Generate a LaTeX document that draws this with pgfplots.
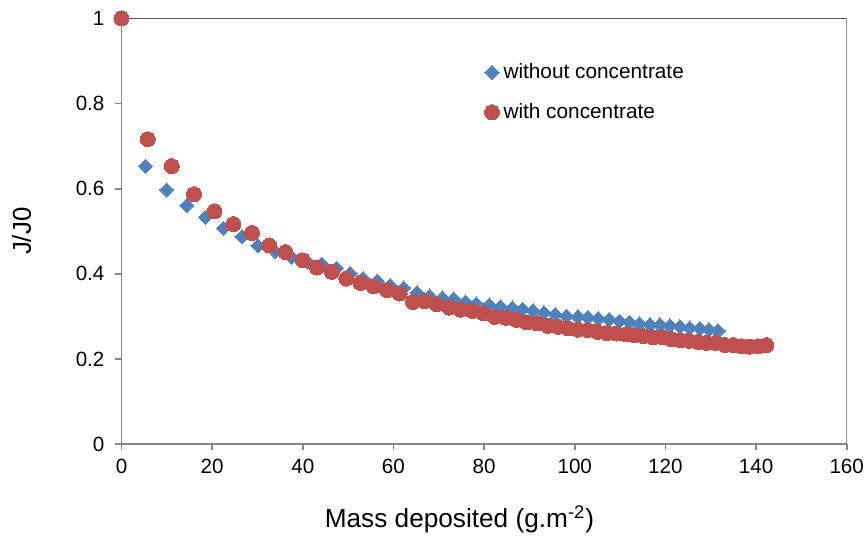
\documentclass[border=0pt]{standalone}
\usepackage{fontspec}
\setmainfont{Liberation Sans}
\usepackage{pgfplots}
\pgfplotsset{compat=1.18}
\definecolor{sblue}{HTML}{4F81BD}
\definecolor{sred}{HTML}{C0504D}
\definecolor{axgray}{HTML}{868686}
\definecolor{boxgray}{HTML}{595959}
\begin{document}
\begin{tikzpicture}
\begin{axis}[
  scale only axis,
  width=362.6pt, height=213pt,
  xmin=0, xmax=160, ymin=0, ymax=1,
  xtick={0,20,...,160},
  ytick={0,0.2,0.4,0.6,0.8,1},
  axis x line*=bottom, axis y line*=left,
  axis line style={draw=axgray, line width=0.9pt},
  tick style={draw=axgray, line width=0.9pt},
  tick align=outside, major tick length=3pt,
  /pgf/number format/assume math mode=true,
  /pgf/number format/fixed,
  tick label style={font=\fontsize{10.3}{12}\selectfont},
  yticklabel style={xshift=-2pt},
  xticklabel style={yshift=-1pt},
  xlabel={Mass deposited (g.m\textsuperscript{-2})},
  ylabel={J/J0},
  xlabel style={at={(axis description cs:0.466,-0.1944)}, anchor=base, font=\fontsize{13.1}{15}\selectfont},
  ylabel style={at={(axis description cs:-0.125,0.5)}, anchor=base, font=\fontsize{12.9}{15}\selectfont},
  legend style={at={(axis description cs:0.5,0.905)}, anchor=north west, draw=none, fill=none,
    font=\fontsize{10.4}{12}\selectfont, row sep=7pt, inner sep=0pt,
    /tikz/every even column/.append style={column sep=1.5pt}},
  legend cell align=left,
  legend image code/.code={\draw[#1] plot coordinates {(0pt,0pt)};},
]
\addplot[only marks, mark=square*, mark size=2.5pt, mark options={rotate=45, fill=sblue, draw=sblue, line width=0pt}, color=sblue] coordinates {
(0,1) (5.3,0.653) (10.0,0.597) (14.4,0.561) (18.5,0.533) (22.5,0.507) (26.6,0.487)
(30.1,0.466) (33.9,0.453) (37.5,0.439) (41.1,0.428) (44.2,0.423) (47.4,0.413)
(50.5,0.401) (53.3,0.389) (56.4,0.383) (59.3,0.373) (62.3,0.367) (65.2,0.356)
(68.0,0.348) (70.8,0.344) (73.3,0.341) (75.9,0.334) (78.3,0.330) (81.1,0.327)
(83.6,0.323) (86.2,0.320) (88.5,0.317) (90.8,0.313) (93.2,0.309) (95.7,0.305)
(98.2,0.301) (100.7,0.299) (102.9,0.298) (105.2,0.295) (107.6,0.293) (109.9,0.289)
(112.1,0.286) (114.3,0.283) (116.6,0.281) (118.8,0.280) (121.0,0.278) (123.2,0.276)
(125.4,0.273) (127.6,0.272) (129.6,0.269) (131.6,0.266)
};
\addlegendentry{without concentrate}
\addplot[only marks, mark=*, mark size=3.75pt, mark options={fill=sred, draw=sred, line width=0pt}, color=sred] coordinates {
(0,1) (5.8,0.716) (11.1,0.653) (16.0,0.587) (20.5,0.547) (24.7,0.517) (28.8,0.496)
(32.6,0.467) (36.2,0.451) (40.0,0.432) (43.1,0.415) (46.4,0.405) (49.6,0.389)
(52.7,0.379) (55.6,0.371) (58.6,0.362) (61.4,0.354) (64.3,0.334) (66.9,0.336)
(69.5,0.329) (72.3,0.321) (74.8,0.316) (77.4,0.313) (79.8,0.308) (82.3,0.299)
(84.8,0.297) (87.1,0.292) (89.4,0.286) (91.7,0.284) (94.0,0.278) (96.3,0.276)
(98.5,0.272) (100.7,0.269) (102.9,0.268) (105.0,0.264) (107.1,0.261) (109.2,0.260)
(111.3,0.258) (113.2,0.256) (115.2,0.254) (117.3,0.251) (119.4,0.251) (121.3,0.247)
(123.3,0.244) (125.2,0.243) (127.2,0.240) (129.1,0.238) (131.1,0.238) (133.1,0.233)
(135.0,0.233) (136.8,0.230) (138.6,0.229) (140.5,0.230) (142.3,0.233)
};
\addlegendentry{with concentrate}
\draw[boxgray, line width=0.9pt] (rel axis cs:0,1) -- (rel axis cs:1,1) -- (rel axis cs:1,0);
\end{axis}
\pgfresetboundingbox
\useasboundingbox ([xshift=-60.75pt,yshift=-46pt]current axis.south west) rectangle ([xshift=9.65pt,yshift=9.15pt]current axis.north east);
\end{tikzpicture}
\end{document}
